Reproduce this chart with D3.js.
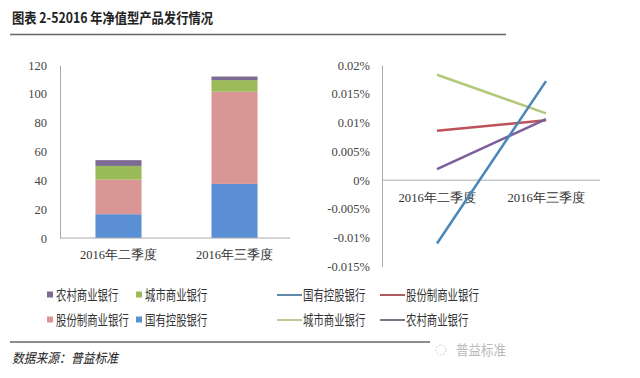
<!DOCTYPE html>
<html><head><meta charset="utf-8">
<script src="https://cdn.jsdelivr.net/npm/d3@7"></script>
<style>body{margin:0;background:#fff}svg{display:block}</style>
</head><body>
<script>
const categories = ["2016年二季度", "2016年三季度"];
const barSeries = ["国有控股银行", "股份制商业银行", "城市商业银行", "农村商业银行"];
const barValues = {
  "国有控股银行": [16.5, 37.5],
  "股份制商业银行": [24, 64],
  "城市商业银行": [9.5, 8],
  "农村商业银行": [4, 2.5]
};
const barTicks = [0, 20, 40, 60, 80, 100, 120];
const lineSeries = ["国有控股银行", "股份制商业银行", "城市商业银行", "农村商业银行"];
const lineValues = {
  "国有控股银行": [-0.011, 0.0172],
  "股份制商业银行": [0.0086, 0.0104],
  "城市商业银行": [0.0183, 0.0116],
  "农村商业银行": [0.0019, 0.0106]
};
const lineTicks = [0.02, 0.015, 0.01, 0.005, 0, -0.005, -0.01, -0.015];
const lineTickLabels = ["0.02%", "0.015%", "0.01%", "0.005%", "0%", "-0.005%", "-0.01%", "-0.015%"];

const barColors = {"国有控股银行":"#5a8fd6","股份制商业银行":"#da9694","城市商业银行":"#9bbb59","农村商业银行":"#7c6a94"};
const lineColors = {"国有控股银行":"#4a86b8","股份制商业银行":"#bd525a","城市商业银行":"#b3c97a","农村商业银行":"#7a5f9a"};
const lineLegendColors = {"国有控股银行":"#5d8aa8","股份制商业银行":"#b05a60","城市商业银行":"#c2c89a","农村商业银行":"#7d7385"};

const W = 640, H = 378;
const svg = d3.select("body").append("svg").attr("width", W).attr("height", H);
const cjk = "'Noto Sans CJK SC'";
const serif = "'Liberation Serif', 'DejaVu Serif', serif";
const fit = (sel, len) => sel.attr("textLength", len).attr("lengthAdjust", "spacingAndGlyphs");

// Title
fit(svg.append("text").attr("x", 12).attr("y", 23).attr("font-family", cjk)
  .attr("font-weight", "bold").attr("font-size", 14).attr("fill", "#222")
  .text("图表 2-52016 年净值型产品发行情况"), 201);
svg.append("line").attr("x1", 10).attr("x2", 506).attr("y1", 34.5).attr("y2", 34.5)
  .attr("stroke", "#666").attr("stroke-width", 1.5);

// Left bar chart
const x0 = d3.scaleBand().domain(categories).range([61, 292]).paddingInner(0.603).paddingOuter(0.297);
const y0 = d3.scaleLinear().domain([0, 120]).range([238, 65]);
const stack = d3.stack().keys(barSeries)(categories.map((c, i) => {
  const o = {cat: c}; barSeries.forEach(s => o[s] = barValues[s][i]); return o;
}));
const gBar = svg.append("g");
stack.forEach(layer => {
  gBar.selectAll(null).data(layer).enter().append("rect")
    .attr("x", d => x0(d.data.cat)).attr("width", x0.bandwidth())
    .attr("y", d => y0(d[1])).attr("height", d => y0(d[0]) - y0(d[1]))
    .attr("fill", barColors[layer.key]);
});
const yAx0 = svg.append("g").attr("transform", "translate(60,0)")
  .call(d3.axisLeft(y0).tickValues(barTicks).tickSize(0).tickPadding(13));
yAx0.select(".domain").attr("stroke", "#aaa");
yAx0.selectAll("text").attr("font-family", serif).attr("font-size", 12.5).attr("fill", "#444");
const xAx0 = svg.append("g").attr("transform", "translate(0,238)")
  .call(d3.axisBottom(x0).tickSize(0).tickPadding(12));
xAx0.select(".domain").attr("stroke", "#aaa").attr("d", "M60,0H290");
xAx0.selectAll("text").attr("font-family", serif).attr("font-size", 12.5).attr("fill", "#333")
  .attr("textLength", 77).attr("lengthAdjust", "spacingAndGlyphs");

// Right line chart
const x1 = d3.scalePoint().domain(categories).range([437, 546]);
const y1 = d3.scaleLinear().domain([-0.015, 0.02]).range([266.5, 65]);
const yAx1 = svg.append("g").attr("transform", "translate(382,0)")
  .call(d3.axisLeft(y1).tickValues(lineTicks).tickFormat((d, i) => lineTickLabels[i]).tickSize(0).tickPadding(12));
yAx1.select(".domain").attr("stroke", "#aaa");
yAx1.selectAll("text").attr("font-family", serif).attr("font-size", 12.5).attr("fill", "#444");
svg.append("line").attr("x1", 382).attr("x2", 600).attr("y1", y1(0)).attr("y2", y1(0)).attr("stroke", "#aaa");
const xAx1 = svg.append("g").attr("transform", `translate(0,${y1(0)})`)
  .call(d3.axisBottom(x1).tickSize(0).tickPadding(13));
xAx1.select(".domain").remove();
xAx1.selectAll("text").attr("font-family", serif).attr("font-size", 12.5).attr("fill", "#333")
  .attr("textLength", 78).attr("lengthAdjust", "spacingAndGlyphs");
const line = d3.line().x((d, i) => x1(categories[i])).y(d => y1(d));
const drawOrder = ["城市商业银行", "股份制商业银行", "农村商业银行", "国有控股银行"];
drawOrder.forEach(s => {
  svg.append("path").attr("d", line(lineValues[s])).attr("fill", "none")
    .attr("stroke", lineColors[s]).attr("stroke-width", 2.5);
});

// Left legend
const legL = [["农村商业银行", 50, 295], ["城市商业银行", 139, 295], ["股份制商业银行", 50, 320], ["国有控股银行", 139, 320]];
legL.forEach(([s, x, y]) => {
  svg.append("rect").attr("x", x - 3).attr("y", y - 3.5).attr("width", 6).attr("height", 6).attr("fill", barColors[s]);
  fit(svg.append("text").attr("x", x + 6).attr("y", y + 5).attr("font-family", cjk)
    .attr("font-size", 13.5).attr("fill", "#333").text(s), s.length * 10.4);
});
// Right legend
const legR = [["国有控股银行", 277, 295], ["股份制商业银行", 380, 295], ["城市商业银行", 277, 320], ["农村商业银行", 380, 320]];
legR.forEach(([s, x, y]) => {
  svg.append("line").attr("x1", x).attr("x2", x + 25).attr("y1", y).attr("y2", y)
    .attr("stroke", lineLegendColors[s]).attr("stroke-width", 2);
  fit(svg.append("text").attr("x", x + 26).attr("y", y + 5).attr("font-family", cjk)
    .attr("font-size", 13.5).attr("fill", "#333").text(s), s.length * 10.4);
});

// Footer
svg.append("line").attr("x1", 10).attr("x2", 430).attr("y1", 342).attr("y2", 342)
  .attr("stroke", "#666").attr("stroke-width", 1.5);
fit(svg.append("text").attr("x", 12).attr("y", 363).attr("font-family", cjk)
  .attr("font-size", 13.5).attr("font-style", "italic").attr("fill", "#222")
  .text("数据来源：普益标准"), 106);
fit(svg.append("text").attr("x", 456).attr("y", 355).attr("font-family", cjk)
  .attr("font-size", 14).attr("fill", "#bbb").text("普益标准"), 50);
svg.append("circle").attr("cx", 441).attr("cy", 350).attr("r", 5).attr("fill", "none").attr("stroke", "#ccc").attr("stroke-dasharray", "2,1.5");
</script>
</body></html>
